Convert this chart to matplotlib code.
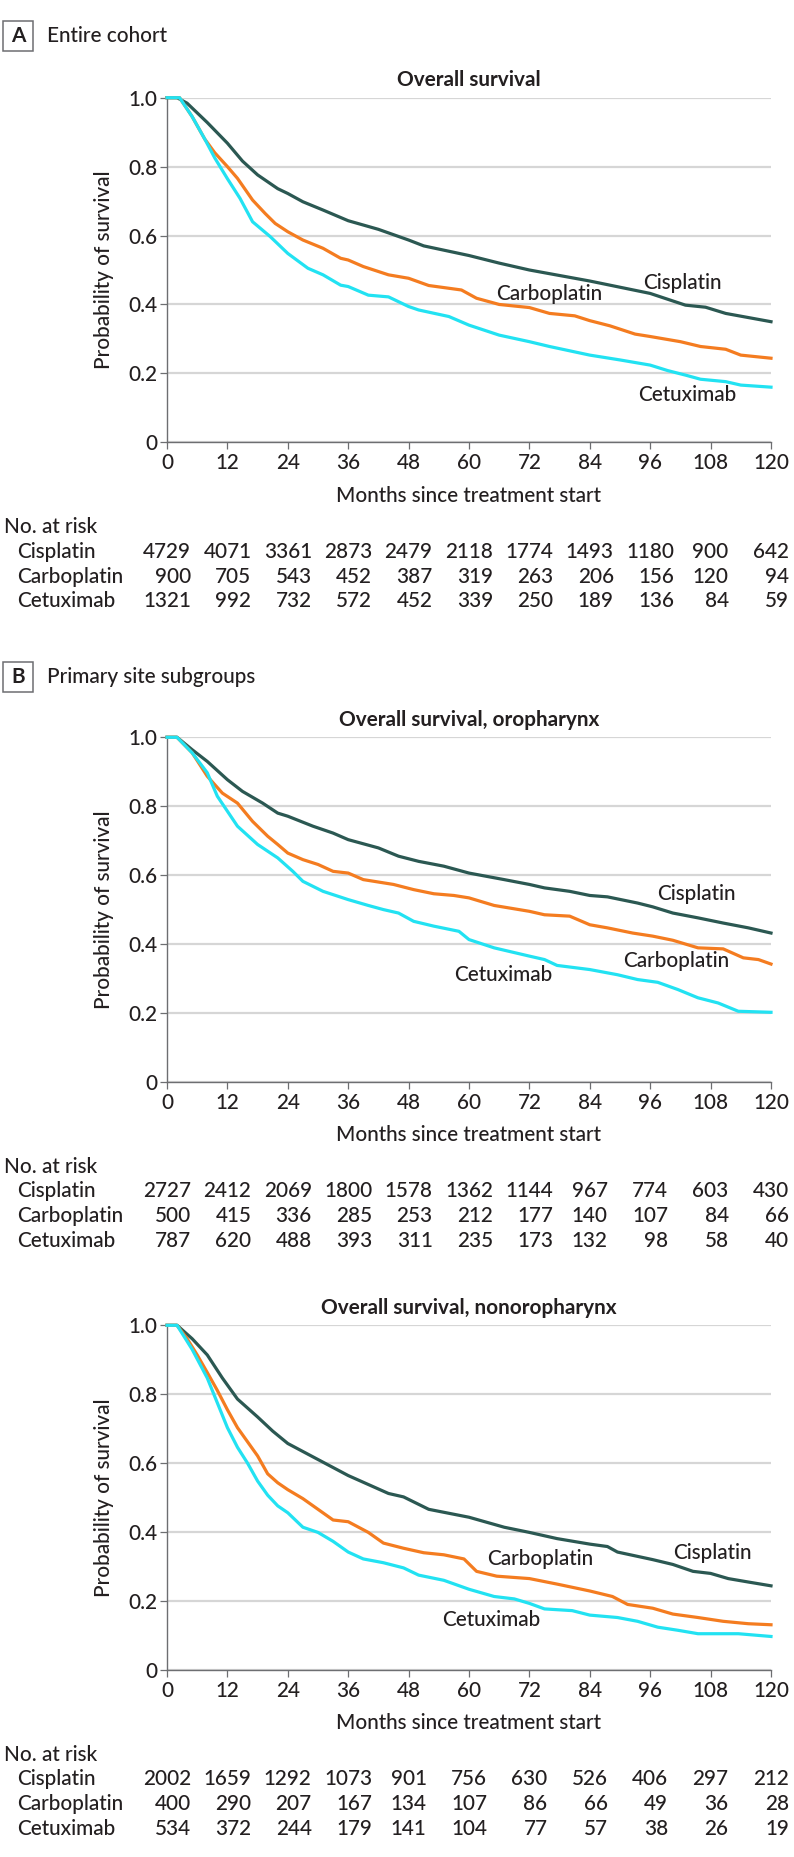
import matplotlib
matplotlib.use('Agg')
import matplotlib.pyplot as plt
from matplotlib import font_manager
from matplotlib.patches import Rectangle

W, H = 794, 1857

# survival curves: months / probability
a_cis_m = [0, 2, 4, 8, 12, 15, 18, 22, 24, 27, 31, 36, 42, 48, 51, 60, 66, 72, 84, 96, 103, 107, 111, 120]
a_cis_v = [1.0, 1.0, 0.984, 0.928, 0.868, 0.816, 0.776, 0.736, 0.722, 0.698, 0.674, 0.643, 0.618, 0.587, 0.570,
           0.542, 0.520, 0.500, 0.468, 0.432, 0.398, 0.392, 0.374, 0.350]
a_car_m = [0, 2.5, 5, 7.5, 9.5, 12, 14, 17, 19.5, 21.5, 24, 27, 31, 34.5, 36, 39, 44, 48, 52, 58.5, 61.5, 66,
           72, 76, 81, 84, 88, 93, 96, 102, 106, 111, 114, 120]
a_car_v = [1.0, 1.0, 0.945, 0.88, 0.84, 0.800, 0.766, 0.703, 0.664, 0.635, 0.611, 0.587, 0.563, 0.534, 0.529,
           0.510, 0.486, 0.476, 0.455, 0.442, 0.418, 0.400, 0.391, 0.374, 0.367, 0.353, 0.338, 0.314, 0.307,
           0.292, 0.278, 0.270, 0.253, 0.244]
a_cet_m = [0, 2.5, 5, 7.5, 9.5, 12, 14.5, 17, 20.5, 24, 28, 31, 34.5, 36, 40, 44, 48, 50, 56, 60, 66, 72, 76,
           84, 90, 96, 99.5, 103, 106, 111, 114, 120]
a_cet_v = [1.0, 1.0, 0.945, 0.88, 0.825, 0.765, 0.708, 0.640, 0.597, 0.548, 0.505, 0.486, 0.456, 0.452, 0.427,
           0.422, 0.394, 0.384, 0.365, 0.340, 0.311, 0.292, 0.278, 0.253, 0.239, 0.224, 0.208, 0.195, 0.183,
           0.176, 0.166, 0.160]

b1_cis_m = [0, 2, 5, 8, 12, 15, 19, 22, 24, 29, 33, 36, 42, 46, 50, 55, 60, 67, 72, 75, 80, 84, 87.5, 93.5,
            96.5, 100.5, 105.5, 110.5, 115.5, 120]
b1_cis_v = [1.0, 1.0, 0.964, 0.930, 0.877, 0.843, 0.809, 0.780, 0.771, 0.742, 0.722, 0.703, 0.679, 0.655,
            0.640, 0.626, 0.606, 0.587, 0.573, 0.563, 0.553, 0.541, 0.537, 0.519, 0.508, 0.490, 0.476, 0.461,
            0.447, 0.432]
b1_car_m = [0, 2, 5, 8, 11, 14, 17, 20, 22, 24, 27, 30, 33, 36, 39, 45, 49, 53, 57, 60, 65, 72, 75, 80, 84,
            87.5, 92.5, 96.5, 100.5, 105.5, 110.5, 114.5, 117.5, 120]
b1_car_v = [1.0, 1.0, 0.955, 0.887, 0.838, 0.809, 0.756, 0.713, 0.689, 0.664, 0.645, 0.631, 0.611, 0.606,
            0.587, 0.573, 0.558, 0.546, 0.541, 0.534, 0.512, 0.495, 0.485, 0.481, 0.456, 0.447, 0.432, 0.423,
            0.411, 0.389, 0.386, 0.360, 0.355, 0.342]
b1_cet_m = [0, 2, 5, 8, 10, 14, 18, 22, 25, 27, 31, 36, 40, 43, 46, 49, 53, 58, 60, 65, 72, 75, 77.5, 84,
            89.5, 93.5, 97.5, 101.5, 105.5, 109.5, 113.5, 120]
b1_cet_v = [1.0, 1.0, 0.955, 0.897, 0.829, 0.742, 0.689, 0.650, 0.611, 0.582, 0.553, 0.529, 0.512, 0.500,
            0.490, 0.466, 0.452, 0.437, 0.413, 0.389, 0.365, 0.355, 0.338, 0.326, 0.311, 0.297, 0.289, 0.268,
            0.244, 0.229, 0.205, 0.202]

b2_cis_m = [0, 2, 5, 8, 11, 14, 18, 21, 24, 28, 32, 36, 40, 44, 47, 52, 60, 67, 72, 77.5, 84, 87.5, 89.5,
            96.5, 100.5, 104.5, 108, 111.5, 115.5, 120]
b2_cis_v = [1.0, 1.0, 0.961, 0.914, 0.847, 0.786, 0.734, 0.693, 0.657, 0.626, 0.595, 0.564, 0.538, 0.512,
            0.502, 0.466, 0.443, 0.414, 0.399, 0.381, 0.365, 0.358, 0.342, 0.320, 0.306, 0.286, 0.280, 0.265,
            0.255, 0.244]
b2_car_m = [0, 2, 4, 6, 8, 10, 12, 14, 16, 18, 20, 22, 24, 27, 30, 33, 36, 40, 43, 47, 51, 55, 59, 61.5,
            65.5, 72, 77.5, 84, 88.5, 91.5, 96.5, 100.5, 105.5, 110.5, 115.5, 120]
b2_car_v = [1.0, 1.0, 0.961, 0.914, 0.863, 0.811, 0.755, 0.703, 0.662, 0.621, 0.569, 0.543, 0.523, 0.497,
            0.466, 0.435, 0.430, 0.399, 0.368, 0.353, 0.340, 0.334, 0.322, 0.286, 0.272, 0.265, 0.249, 0.229,
            0.213, 0.190, 0.179, 0.162, 0.152, 0.141, 0.134, 0.131]
b2_cet_m = [0, 2, 5, 8, 10, 12, 14, 16, 18, 20, 22, 24, 27, 30, 33, 36, 39, 43, 47, 50, 55, 60, 65, 69, 72,
            75, 80.5, 84, 89.5, 93.5, 97.5, 101.5, 105.5, 113.5, 120]
b2_cet_v = [1.0, 1.0, 0.930, 0.847, 0.775, 0.703, 0.646, 0.600, 0.548, 0.507, 0.476, 0.456, 0.414, 0.399,
            0.373, 0.342, 0.322, 0.311, 0.296, 0.275, 0.260, 0.234, 0.213, 0.206, 0.193, 0.177, 0.172, 0.159,
            0.152, 0.141, 0.124, 0.115, 0.105, 0.105, 0.097]

# numbers at risk, every 12 months
drugs = ['Cisplatin', 'Carboplatin', 'Cetuximab']
a_risk_cis = [4729, 4071, 3361, 2873, 2479, 2118, 1774, 1493, 1180, 900, 642]
a_risk_car = [900, 705, 543, 452, 387, 319, 263, 206, 156, 120, 94]
a_risk_cet = [1321, 992, 732, 572, 452, 339, 250, 189, 136, 84, 59]
b1_risk_cis = [2727, 2412, 2069, 1800, 1578, 1362, 1144, 967, 774, 603, 430]
b1_risk_car = [500, 415, 336, 285, 253, 212, 177, 140, 107, 84, 66]
b1_risk_cet = [787, 620, 488, 393, 311, 235, 173, 132, 98, 58, 40]
b2_risk_cis = [2002, 1659, 1292, 1073, 901, 756, 630, 526, 406, 297, 212]
b2_risk_car = [400, 290, 207, 167, 134, 107, 86, 66, 49, 36, 28]
b2_risk_cet = [534, 372, 244, 179, 141, 104, 77, 57, 38, 26, 19]

months_ticks = list(range(0, 121, 12))
colors = {'Cisplatin': '#2b5852', 'Carboplatin': '#f47c20', 'Cetuximab': '#22e2f2'}
TXT = '#231f20'
WEIGHT = 'medium'

# pick a family that is installed
family = 'DejaVu Sans'
for f in ['Lato', 'Open Sans', 'Noto Sans']:
    try:
        font_manager.findfont(font_manager.FontProperties(family=f), fallback_to_default=False)
        family = f
        break
    except Exception:
        pass
plt.rcParams['font.family'] = family
plt.rcParams['font.weight'] = WEIGHT

fig = plt.figure(figsize=(W / 100, H / 100), dpi=100)
rend = fig.canvas.get_renderer()

# size the font so the x label is as wide as in the reference
probe = fig.text(0, 0, 'Months since treatment start', fontsize=10, fontweight=WEIGHT)
FS = 10 * 268 / probe.get_window_extent(rend).width
probe.remove()


def fx(px):
    return px / W


def fy(py):
    return 1 - py / H


def put(px, py, s, **kw):
    kw.setdefault('fontsize', FS)
    kw.setdefault('color', TXT)
    kw.setdefault('fontweight', WEIGHT)
    return fig.text(fx(px), fy(py), s, **kw)


AX_L, AX_W, AX_H = 167, 604, 344.6
XPX = AX_W / 120.0


def panel(top, title, curves, labels, risk):
    ax = fig.add_axes([fx(AX_L), fy(top + AX_H), AX_W / W, AX_H / H])
    ax.set_xlim(0, 120)
    ax.set_ylim(0, 1)
    ax.set_xticks(months_ticks)
    ax.set_yticks([0, 0.2, 0.4, 0.6, 0.8, 1.0])
    ax.set_yticklabels(['0', '0.2', '0.4', '0.6', '0.8', '1.0'])
    ax.tick_params(labelsize=FS, length=5, width=0.9, color='#6d6e71', labelcolor=TXT)
    ax.tick_params(axis='x', pad=3)
    ax.tick_params(axis='y', pad=2)
    for s in ['top', 'right']:
        ax.spines[s].set_visible(False)
    for s in ['left', 'bottom']:
        ax.spines[s].set_color('#6d6e71')
        ax.spines[s].set_linewidth(1.0)
    ax.yaxis.grid(True, color='#d6d6d6', lw=1.6)
    ax.set_axisbelow(True)
    for name, (m, v) in zip(drugs, curves):
        ax.plot(m, v, color=colors[name], lw=2.3, clip_on=False, zorder=3)
    for name, (lx, ly) in zip(drugs, labels):
        ax.text(lx, ly, name, fontsize=FS, color=TXT, ha='center', va='center', fontweight=WEIGHT)

    bottom = top + AX_H
    mid = AX_L + AX_W / 2
    put(mid, top - 17.6, title, ha='center', va='center', fontweight='bold')
    put(mid, bottom + 53.2, 'Months since treatment start', ha='center', va='center')
    put(104, top + AX_H / 2, 'Probability of survival', ha='center', va='center', rotation=90)

    # numbers at risk table
    put(4, bottom + 84.8, 'No. at risk', ha='left', va='center')
    rows_y = [bottom + 109.5, bottom + 134.3, bottom + 158.7]
    cells = []
    for name, ry, vals in zip(drugs, rows_y, risk):
        put(16.7, ry, name, ha='left', va='center')
        cells.append([put(0, ry, str(v), ha='right', va='center') for v in vals])
    for j, mth in enumerate(months_ticks):
        col = [row[j] for row in cells]
        wmax = max(t.get_window_extent(rend).width for t in col)
        xr = AX_L + mth * XPX + wmax / 2
        for t in col:
            t.set_x(fx(xr))
    return ax


def header(y, letter, text):
    fig.add_artist(Rectangle((fx(3.3), fy(y + 15)), 30 / W, 30 / H, transform=fig.transFigure,
                             fill=False, edgecolor='#6d6e71', lw=1.1))
    put(18.3, y, letter, ha='center', va='center', fontweight='bold')
    put(46.7, y, text, ha='left', va='center')


header(36, 'A', 'Entire cohort')
panel(97.7, 'Overall survival',
      [(a_cis_m, a_cis_v), (a_car_m, a_car_v), (a_cet_m, a_cet_v)],
      [(102.3, 0.461), (75.9, 0.430), (103.3, 0.137)],
      [a_risk_cis, a_risk_car, a_risk_cet])

header(676.7, 'B', 'Primary site subgroups')
panel(737.3, 'Overall survival, oropharynx',
      [(b1_cis_m, b1_cis_v), (b1_car_m, b1_car_v), (b1_cet_m, b1_cet_v)],
      [(105.1, 0.544), (101.1, 0.350), (66.9, 0.311)],
      [b1_risk_cis, b1_risk_car, b1_risk_cet])

panel(1325.3, 'Overall survival, nonoropharynx',
      [(b2_cis_m, b2_cis_v), (b2_car_m, b2_car_v), (b2_cet_m, b2_cet_v)],
      [(108.4, 0.340), (74.2, 0.322), (64.4, 0.146)],
      [b2_risk_cis, b2_risk_car, b2_risk_cet])

fig.savefig('out.png', dpi=100)
